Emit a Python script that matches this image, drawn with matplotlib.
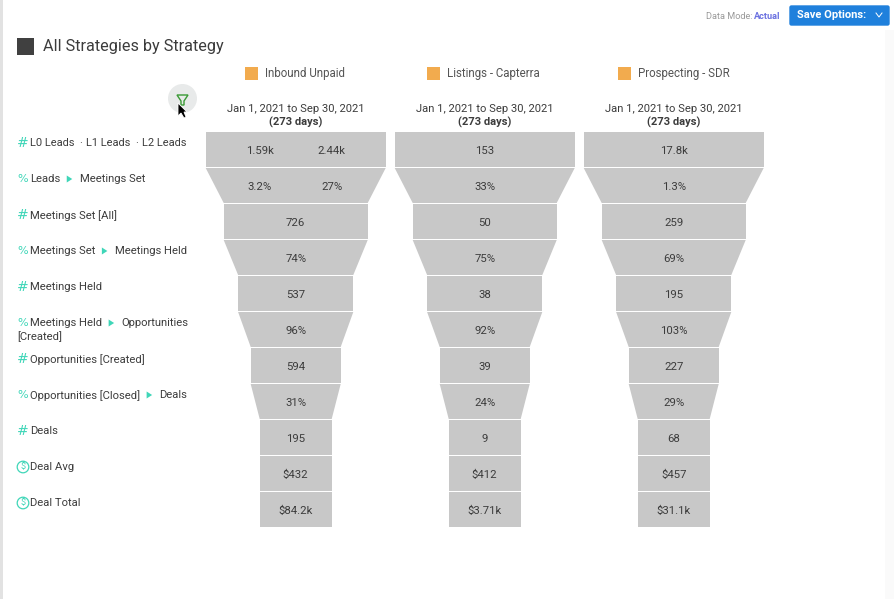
# funnel chart, all strategies
import matplotlib
matplotlib.use('Agg')
import matplotlib.pyplot as plt
from matplotlib.patches import Circle, Polygon, Rectangle, FancyBboxPatch

plt.rcParams['font.family'] = ['Roboto', 'DejaVu Sans']

strategies = ['Inbound Unpaid', 'Listings - Capterra', 'Prospecting - SDR']
date_range = 'Jan 1, 2021 to Sep 30, 2021'
day_count = '(273 days)'

row_icons = ['#', '%', '#', '%', '#', '%', '#', '%', '#', '$', '$']
row_labels = [
    ['L0 Leads', 'L1 Leads', 'L2 Leads'],
    ['Leads', 'Meetings Set'],
    ['Meetings Set [All]'],
    ['Meetings Set', 'Meetings Held'],
    ['Meetings Held'],
    ['Meetings Held', 'Opportunities'],
    ['Opportunities [Created]'],
    ['Opportunities [Closed]', 'Deals'],
    ['Deals'],
    ['Deal Avg'],
    ['Deal Total'],
]

inbound_values = [['1.59k', '2.44k'], ['3.2%', '27%'], ['726'], ['74%'], ['537'], ['96%'],
                  ['594'], ['31%'], ['195'], ['$432'], ['$84.2k']]
listings_values = ['153', '33%', '50', '75%', '38', '92%', '39', '24%', '9', '$412', '$3.71k']
prospecting_values = ['17.8k', '1.3%', '259', '69%', '195', '103%', '227', '29%', '68', '$457', '$31.1k']

# funnel width of each row, percent of the full width (top edge, bottom edge)
top_width = [100, 100, 80, 80, 64, 64, 50, 50, 40, 40, 40]
bottom_width = [100, 80, 80, 64, 64, 50, 50, 40, 40, 40, 40]

TEAL = '#3fd6b8'
DARK = '#3c3c3c'
GRAY = '#c8c8c8'
ORANGE = '#f2ab4e'

fig = plt.figure(figsize=(8.95, 5.99), dpi=100)
ax = fig.add_axes([0, 0, 1, 1])
ax.set_xlim(0, 895)
ax.set_ylim(599, 0)
ax.axis('off')

# page edges
ax.add_patch(Rectangle((0, 0), 3, 599, color='#e2e2e2', lw=0))
ax.add_patch(Rectangle((885, 30), 10, 569, color='#fafafa', lw=0))

# top right controls
ax.text(706, 16.5, 'Data Mode:', fontsize=6.6, color='#9a9a9a', va='center')
ax.text(754, 16.5, 'Actual', fontsize=6.6, color='#6a70e0', va='center', fontweight='bold')
ax.add_patch(FancyBboxPatch((790, 6), 99, 19, boxstyle='round,pad=0,rounding_size=1.5',
                            fc='#1f80dc', ec='#1f80dc', lw=1))
ax.text(797, 15.5, 'Save Options:', fontsize=8, color='white', va='center', fontweight='bold')
ax.plot([876, 879, 882], [13, 17, 13], color='white', lw=0.7)

# title
ax.add_patch(Rectangle((17, 38), 17, 17, color='#404040', lw=0))
ax.text(43, 46, 'All Strategies by Strategy', fontsize=11.7, color=DARK, va='center')

# filter icon and cursor
ax.add_patch(Circle((182.5, 98.5), 14.5, color='#e8eaea', lw=0))
ax.add_patch(Polygon([(177, 95), (188, 95), (184, 101), (184, 105), (181, 105), (181, 101)],
                     closed=True, fc='none', ec='#3a9a35', lw=1))
ax.add_patch(Polygon([(178, 103), (178, 116), (181, 113), (184, 118), (186, 117), (184, 112), (187, 112)],
                     closed=True, fc='black', ec='white', lw=0.6, zorder=5))

# row labels
renderer = fig.canvas.get_renderer()
for i, (icon, parts) in enumerate(zip(row_icons, row_labels)):
    y = 143 + 36 * i
    if icon == '$':
        ax.add_patch(Circle((23, y), 5.8, fc='none', ec=TEAL, lw=0.9))
        ax.text(23, y, '$', fontsize=6.5, color=TEAL, ha='center', va='center')
    else:
        ax.text(23, y, icon, fontsize=10 if icon == '#' else 8, color=TEAL, ha='center', va='center',
                family='DejaVu Sans')
    x = 30.5
    size = 7.9 if i == 0 else 8.1
    for j, part in enumerate(parts):
        t = ax.text(x, y + 0.5, part, fontsize=size, color=DARK, va='center')
        x += t.get_window_extent(renderer).width
        if j < len(parts) - 1:
            if i == 0:
                ax.text(x + 6, y + 0.5, '·', fontsize=size, color=DARK, ha='center', va='center')
                x += 11.5
            else:
                ax.add_patch(Polygon([(x + 6, y - 3.5), (x + 11.5, y), (x + 6, y + 3.5)],
                                     closed=True, fc=TEAL, ec='none'))
                x += 19
    if i == 5:
        ax.text(17, y + 13.5, '[Created]', fontsize=8.1, color=DARK, va='center')

# funnels
all_values = [inbound_values, [[v] for v in listings_values], [[v] for v in prospecting_values]]
for name, values, center, legend_x in zip(strategies, all_values, [295.7, 484.7, 673.7], [245, 427, 618]):
    ax.add_patch(Rectangle((legend_x, 67), 13, 13, color=ORANGE, lw=0))
    ax.text(legend_x + 20.5, 73, name, fontsize=8.3, color='#555555', va='center')
    ax.text(center, 109, date_range, fontsize=8.1, color=DARK, ha='center', va='center')
    ax.text(center, 122, day_count, fontsize=8, color=DARK, ha='center', va='center', fontweight='bold')
    for i, row in enumerate(values):
        y0 = 132 + 36 * i
        y1 = y0 + 35
        a = top_width[i] * 1.8 / 2
        b = bottom_width[i] * 1.8 / 2
        ax.add_patch(Polygon([(center - a, y0), (center + a, y0), (center + b, y1), (center - b, y1)],
                             closed=True, fc=GRAY, ec='none'))
        if len(row) == 2:
            ax.text(center - 36, y0 + 19, row[0], fontsize=8.2, color=DARK, ha='center', va='center')
            ax.text(center + 36, y0 + 19, row[1], fontsize=8.2, color=DARK, ha='center', va='center')
        else:
            ax.text(center, y0 + 19, row[0], fontsize=8.2, color=DARK, ha='center', va='center')

fig.savefig('out.png', dpi=100, facecolor='white')
